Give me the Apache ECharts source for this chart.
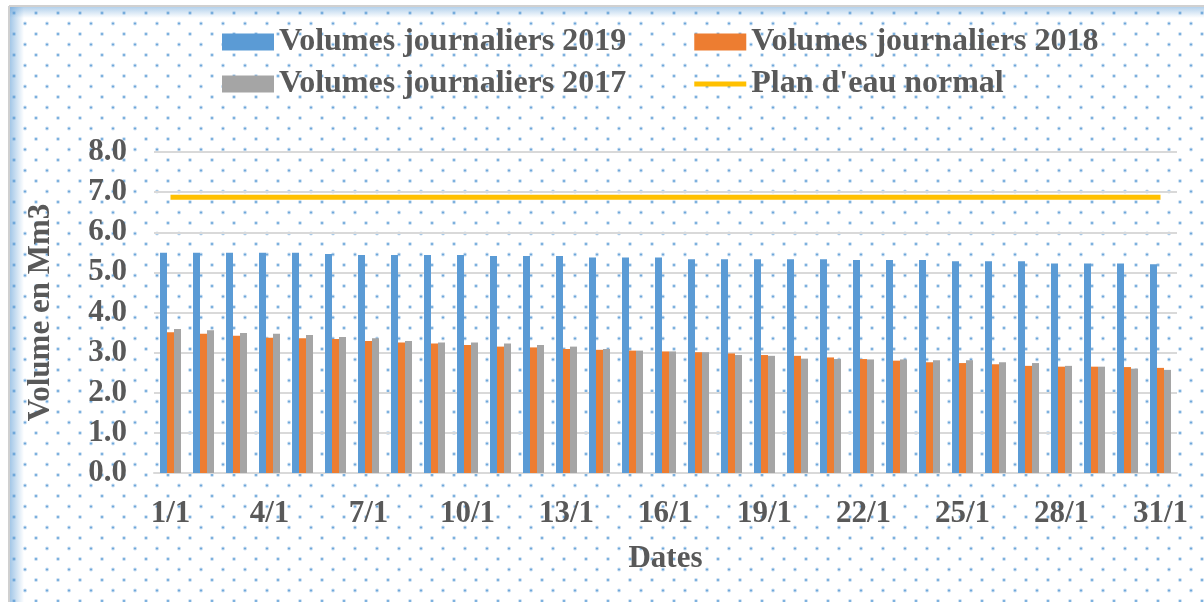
<!DOCTYPE html>
<html>
<head>
<meta charset="utf-8">
<script src="https://cdn.jsdelivr.net/npm/echarts@6/dist/echarts.min.js"></script>
<style>
html,body{margin:0;padding:0;background:#fff;}
#chart{width:1204px;height:602px;}
</style>
</head>
<body>
<div id="chart"></div>
<script>
var days = ['1/1','2/1','3/1','4/1','5/1','6/1','7/1','8/1','9/1','10/1','11/1','12/1','13/1','14/1','15/1','16/1','17/1','18/1','19/1','20/1','21/1','22/1','23/1','24/1','25/1','26/1','27/1','28/1','29/1','30/1','31/1'];
var vol2019 = [5.49,5.49,5.49,5.49,5.49,5.46,5.43,5.43,5.43,5.43,5.41,5.41,5.41,5.37,5.37,5.37,5.33,5.33,5.33,5.33,5.33,5.31,5.31,5.31,5.28,5.28,5.28,5.22,5.22,5.22,5.20];
var vol2018 = [3.51,3.47,3.42,3.37,3.36,3.34,3.29,3.25,3.23,3.19,3.15,3.13,3.09,3.07,3.05,3.03,3.01,2.98,2.94,2.92,2.88,2.84,2.80,2.76,2.74,2.71,2.67,2.65,2.65,2.64,2.62];
var vol2017 = [3.59,3.56,3.49,3.47,3.44,3.39,3.36,3.29,3.25,3.25,3.23,3.19,3.15,3.09,3.05,3.03,3.01,2.94,2.92,2.85,2.84,2.83,2.83,2.81,2.81,2.76,2.74,2.67,2.65,2.60,2.57];
var planEau = [6.87,6.87,6.87,6.87,6.87,6.87,6.87,6.87,6.87,6.87,6.87,6.87,6.87,6.87,6.87,6.87,6.87,6.87,6.87,6.87,6.87,6.87,6.87,6.87,6.87,6.87,6.87,6.87,6.87,6.87,6.87];
var seriesNames = ['Volumes journaliers 2019','Volumes journaliers 2018','Volumes journaliers 2017',"Plan d'eau normal"];

// dotted background tile
var tile = document.createElement('canvas');
tile.width = 22; tile.height = 21;
var tc = tile.getContext('2d');
tc.fillStyle = '#ffffff';
tc.fillRect(0,0,22,21);
function dot(x,y){
  tc.fillStyle = 'rgba(91,155,213,0.35)';
  tc.beginPath(); tc.arc(x,y,2,0,Math.PI*2); tc.fill();
  tc.fillStyle = 'rgba(91,155,213,0.9)';
  tc.beginPath(); tc.arc(x,y,1,0,Math.PI*2); tc.fill();
}
dot(3,2.5); dot(14,13);

var font = '"Liberation Serif", "Times New Roman", serif';
var txt = '#595959';
var legendText = {fontFamily:font, fontWeight:'bold', fontSize:32, color:txt};

var chart = echarts.init(document.getElementById('chart'), null, {renderer:'canvas'});
chart.setOption({
  animation: false,
  backgroundColor: '#ffffff',
  graphic: [
    {type:'rect', z:-10, silent:true, shape:{x:9,y:6,width:1195,height:596}, style:{fill:{image:tile, repeat:'repeat'}}},
    {type:'rect', z:-9, silent:true, shape:{x:9,y:6,width:15,height:596},
      style:{fill:new echarts.graphic.LinearGradient(0,0,1,0,[{offset:0,color:'rgba(91,155,213,0.6)'},{offset:1,color:'rgba(91,155,213,0)'}])}},
    {type:'rect', z:-9, silent:true, shape:{x:9,y:6,width:1195,height:12},
      style:{fill:new echarts.graphic.LinearGradient(0,0,0,1,[{offset:0,color:'rgba(91,155,213,0.5)'},{offset:1,color:'rgba(91,155,213,0)'}])}},
    {type:'line', z:-8, silent:true, shape:{x1:9,y1:6,x2:1204,y2:6}, style:{stroke:'#d0d0d0', lineWidth:2}},
    {type:'line', z:-8, silent:true, shape:{x1:9,y1:6,x2:9,y2:602}, style:{stroke:'#d0d0d0', lineWidth:2}}
  ],
  legend: [
    {data:[{name:seriesNames[0], icon:'rect'}, {name:seriesNames[1], icon:'rect'}], left:217, top:21, itemWidth:52, itemHeight:17, itemGap:68,
     textStyle:legendText},
    {data:[{name:seriesNames[2], icon:'rect'}, {name:seriesNames[3], icon:'path://M0 0H100V10H0Z'}], left:217, top:63, itemWidth:52, itemHeight:17, itemGap:68,
     textStyle:legendText}
  ],
  grid: {left:154, right:27, top:152, bottom:129, containLabel:false},
  xAxis: {
    type:'category', data: days,
    name:'Dates', nameLocation:'middle', nameGap:70,
    nameTextStyle:{fontFamily:font, fontWeight:'bold', fontSize:31, color:txt},
    axisLine:{lineStyle:{color:'#d9d9d9', width:2}},
    axisTick:{show:false},
    axisLabel:{interval:2, margin:25, fontFamily:font, fontWeight:'bold', fontSize:31, color:txt}
  },
  yAxis: {
    type:'value', min:0, max:8, interval:1,
    name:'Volume en Mm3', nameLocation:'middle', nameGap:98, nameRotate:90,
    nameTextStyle:{fontFamily:font, fontWeight:'bold', fontSize:31, color:txt},
    axisLine:{show:false}, axisTick:{show:false},
    splitLine:{lineStyle:{color:'#d9d9d9', width:2}},
    axisLabel:{margin:27, fontFamily:font, fontWeight:'bold', fontSize:31, color:txt,
      formatter:function(v){return v.toFixed(1);}}
  },
  series: [
    {name:seriesNames[0], type:'bar', data:vol2019, barWidth:7, barGap:'0%', itemStyle:{color:'#5b9bd5'}},
    {name:seriesNames[1], type:'bar', data:vol2018, barWidth:7, barGap:'0%', itemStyle:{color:'#ed7d31'}},
    {name:seriesNames[2], type:'bar', data:vol2017, barWidth:7, barGap:'0%', itemStyle:{color:'#a5a5a5'}},
    {name:seriesNames[3], type:'line', data:planEau, symbol:'none', lineStyle:{color:'#ffc000', width:5}, itemStyle:{color:'#ffc000'}, z:5}
  ]
});
</script>
</body>
</html>
